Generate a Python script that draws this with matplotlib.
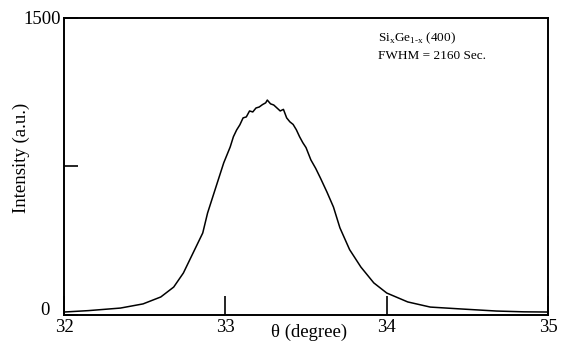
import matplotlib
matplotlib.use("Agg")
from matplotlib import pyplot as plt
from matplotlib.transforms import offset_copy

plt.rcParams["font.family"] = ["Liberation Serif", "DejaVu Serif"]
plt.rcParams["mathtext.fontset"] = "custom"
plt.rcParams["mathtext.rm"] = "Liberation Serif"

# values
theta = [32.00, 32.15, 32.35, 32.49, 32.60, 32.68, 32.74, 32.80, 32.86, 32.89,
         32.95, 32.99, 33.03, 33.05, 33.07, 33.09, 33.11, 33.13, 33.15, 33.17,
         33.19, 33.21, 33.23, 33.25, 33.26, 33.28, 33.30, 33.32, 33.34, 33.36,
         33.38, 33.40, 33.42, 33.44, 33.46, 33.48, 33.50, 33.53, 33.56, 33.59,
         33.63, 33.67, 33.71, 33.77, 33.84, 33.92, 34.00, 34.13, 34.27, 34.47,
         34.68, 34.85, 35.00]
counts = [15, 22, 35, 56, 91, 141, 212, 313, 414, 515,
          667, 768, 848, 900, 934, 960, 995, 1000, 1030, 1025,
          1045, 1050, 1062, 1071, 1085, 1066, 1060, 1045, 1030, 1038,
          995, 975, 962, 935, 900, 870, 845, 783, 740, 690,
          620, 545, 440, 330, 242, 162, 111, 66, 40, 30,
          20, 16, 15]

xticks = [32, 33, 34, 35]
yticks = [0, 750, 1500]
ytick_labels = ["", "", "1500"]

fig = plt.figure(figsize=(5.61, 3.5), dpi=100)
ax = fig.add_axes([0.114, 0.10, 0.863, 0.849])

ax.plot(theta, counts, color="black", linewidth=1.1)

ax.set_xlim(32, 35)
ax.set_ylim(0, 1500)
ax.set_xticks(xticks)
ax.set_yticks(yticks, labels=ytick_labels)
ax.tick_params(axis="both", direction="in", width=1.2, labelsize=13.5)
ax.tick_params(axis="x", length=14, pad=3)
ax.tick_params(axis="y", length=10, pad=2)
for s in ax.spines.values():
    s.set_linewidth(1.4)

# the zero label sits further left and a bit higher in the original
ax.text(0, 0, "0", fontsize=13.5, ha="right", va="center",
        transform=offset_copy(ax.get_yaxis_transform(), fig=fig, x=-10, y=3, units="points"))

ax.set_xlabel("θ (degree)", fontsize=13.5)
ax.set_ylabel("Intensity (a.u.)", fontsize=13.5)
ax.xaxis.label.set_va("center")
ax.yaxis.label.set_va("center")
ax.xaxis.set_label_coords(0.506, -0.057)
ax.yaxis.set_label_coords(-0.087, 0.53)

ax.text(0.648, 0.93, r"Si$_\mathregular{x}$Ge$_{\mathregular{1\text{-}x}}$ (400)",
        transform=ax.transAxes, fontsize=9.5, va="center")
ax.text(0.648, 0.87, "FWHM = 2160 Sec.",
        transform=ax.transAxes, fontsize=9.5, va="center")

fig.savefig("out.png", dpi=100)
